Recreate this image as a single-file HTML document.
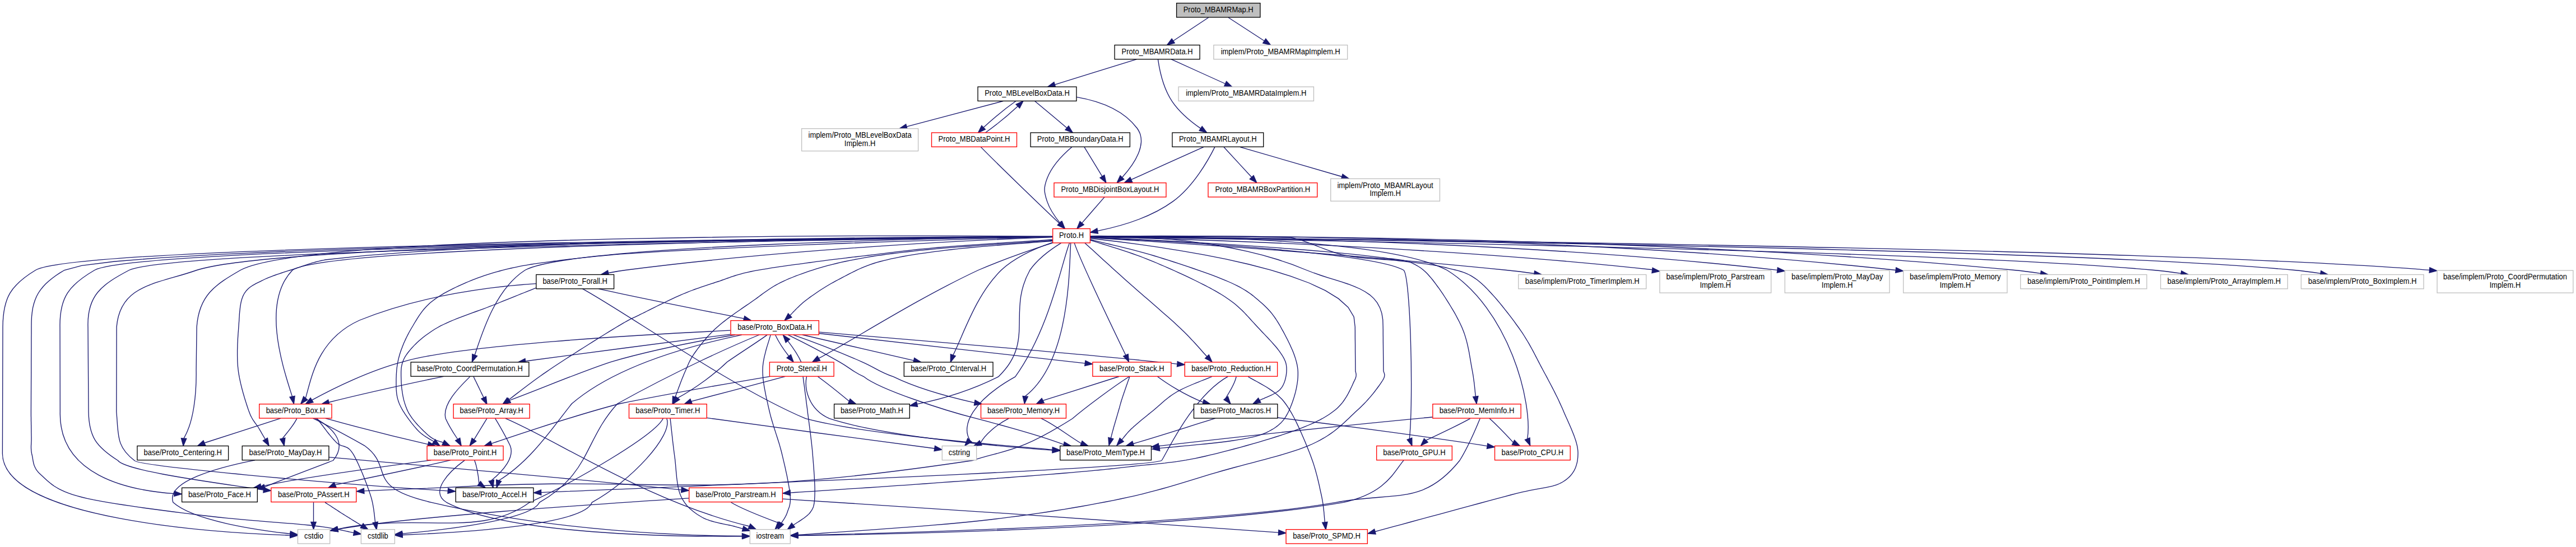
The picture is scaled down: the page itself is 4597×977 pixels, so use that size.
<!DOCTYPE html>
<html><head><meta charset="utf-8"><title>Proto_MBAMRMap.H include dependency graph</title>
<style>html,body{margin:0;padding:0;background:#fff;}body{width:4597px;height:977px;overflow:hidden;}svg{display:block;}</style>
</head><body>
<svg width="4597" height="977" viewBox="0 0 4597 977">
<rect width="4597" height="977" fill="#fff"/>
<g fill="none" stroke="#191970" stroke-width="1.33">
<path d="M2156.7,31.2C2139.8,42.4 2114.0,59.5 2094.1,72.7"/>
<path d="M2192.0,31.2C2209.2,42.4 2235.5,59.5 2255.8,72.7"/>
<path d="M2028.3,105.9C1988.9,118.1 1925.7,137.6 1882.5,151.1"/>
<path d="M2066.5,106.1C2069.0,123.6 2075.8,157.3 2091.7,181.1 2104.9,200.7 2125.4,217.5 2142.6,229.4"/>
<path d="M2090.2,105.9C2116.1,117.7 2156.7,136.1 2186.4,149.5"/>
<path d="M1812.9,180.5C1795.6,192.7 1771.6,212.5 1755.3,227.5"/>
<path d="M1846.6,180.5C1861.5,192.9 1885.8,213.2 1903.9,228.4"/>
<path d="M1921.2,173.3C1960.8,180.1 2004.2,195.5 2029.2,229.0 2049.3,256.3 2023.8,293.3 2002.9,316.5"/>
<path d="M1790.2,180.5C1745.4,192.4 1673.3,211.3 1618.1,226.2"/>
<path d="M1758.5,237.0C1775.8,224.8 1799.8,205.1 1816.1,190.0"/>
<path d="M1750.4,262.6C1777.9,290.8 1852.2,362.7 1890.2,398.6"/>
<path d="M1908.6,433.9C1894.2,470.3 1873.7,586.0 1811.8,672.9 1735.6,715.5 1714.7,760.1 1730.6,785.8"/>
<path d="M1878.3,422.8C1640.0,424.9 249.5,439.3 168.8,482.5 123.2,509.1 106.1,530.9 107.0,584.0 107.0,584.0 107.0,584.0 107.3,735.7 104.8,848.1 226.0,875.6 310.6,881.6"/>
<path d="M1878.2,422.9C1714.3,425.1 1021.6,437.0 937.0,482.5 884.2,516.4 860.5,594.2 847.4,633.7"/>
<path d="M1878.0,428.0L1870.7,428.5 1861.8,429.1 1851.4,429.8 1839.7,430.5 1826.9,431.3 1813.3,432.2 1799.0,433.2 1784.3,434.1 1769.3,435.1 1754.3,436.1 1739.5,437.2 1725.0,438.2 1711.1,439.2 1698.0,440.2 1685.9,441.1 1675.0,442.0 1665.0,442.9 1655.5,443.8 1646.4,444.6 1637.8,445.5 1629.5,446.4 1621.5,447.3 1613.8,448.2 1606.4,449.1 1599.1,449.9 1592.0,450.8 1585.0,451.7 1578.0,452.6 1571.1,453.4 1564.1,454.3 1557.1,455.2 1550.0,456.0 1542.9,456.8 1535.9,457.7 1529.1,458.5 1522.3,459.2 1515.7,460.0 1509.2,460.8 1502.7,461.6 1496.2,462.4 1489.9,463.2 1483.5,463.9 1477.1,464.7 1470.8,465.6 1464.4,466.4 1458.0,467.2 1451.5,468.1 1445.0,469.0 1438.4,469.9 1431.6,470.8 1424.7,471.8 1417.7,472.7 1410.6,473.7 1403.6,474.7 1396.6,475.7 1389.6,476.7 1382.8,477.7 1376.0,478.7 1369.4,479.8 1363.0,480.8 1356.8,481.8 1350.9,482.9 1345.3,483.9 1340.0,485.0 1335.1,486.1 1330.4,487.1 1326.1,488.2 1322.1,489.3 1318.3,490.3 1314.6,491.4 1311.2,492.5 1307.8,493.6 1304.5,494.7 1301.3,495.9 1298.1,497.0 1294.9,498.2 1291.6,499.3 1288.2,500.5 1284.7,501.8 1281.0,503.0 1277.2,504.2 1273.5,505.5 1269.7,506.7 1266.0,507.9 1262.2,509.1 1258.5,510.4 1254.7,511.6 1250.9,512.9 1247.0,514.3 1243.2,515.6 1239.3,517.0 1235.3,518.5 1231.3,520.0 1227.3,521.6 1223.2,523.3 1219.0,525.0 1214.7,526.8 1210.2,528.8 1205.6,530.9 1200.9,533.1 1196.1,535.3 1191.3,537.6 1186.4,540.0 1181.6,542.3 1176.7,544.7 1172.0,547.0 1167.3,549.4 1162.7,551.6 1158.2,553.9 1154.0,556.0 1149.9,558.1 1146.0,560.0 1142.5,561.7 1139.4,563.3 1136.6,564.6 1134.1,565.8 1131.8,566.9 1129.6,567.9 1127.5,568.9 1125.3,570.0 1123.1,571.1 1120.7,572.4 1118.1,573.8 1115.1,575.5 1111.8,577.4 1108.1,579.6 1103.8,582.1 1099.0,585.0 1093.5,588.4 1087.3,592.1 1080.6,596.3 1073.4,600.7 1065.9,605.4 1058.0,610.4 1049.9,615.5 1041.6,620.7 1033.4,625.9 1025.1,631.2 1017.0,636.4 1009.0,641.5 1001.4,646.5 994.1,651.3 987.3,655.8 981.0,660.0 975.1,664.1 969.2,668.1 963.4,672.2 957.8,676.3 952.3,680.3 947.0,684.2 941.9,688.0 937.0,691.7 932.3,695.3 927.9,698.7 923.7,701.9 919.8,704.9 916.3,707.6 913.1,710.1 910.2,712.2 907.7,714.1"/>
<path d="M1878.4,422.6C1662.5,423.8 504.7,432.3 351.2,482.5 280.3,507.6 214.5,507.5 208.1,584.0 208.1,584.0 208.1,584.0 207.8,735.7 211.7,775.9 206.6,797.1 239.9,822.5 243.8,832.2 583.9,863.6 799.3,876.8"/>
<path d="M1878.3,423.3L1840.2,424.2 1790.5,425.5 1730.9,427.2 1663.1,429.3 1588.9,431.7 1510.0,434.5 1428.2,437.6 1345.3,441.1 1263.0,445.0 1183.0,449.2 1107.1,453.8 1101.2,454.4 1095.1,454.9 1088.7,455.5 1082.1,456.1 1075.3,456.8 1068.4,457.4 1061.4,458.1 1054.3,458.8 1047.2,459.6 1040.1,460.3 1033.1,461.1 1026.2,461.9 1019.3,462.6 1012.7,463.4 1006.2,464.2 1000.0,465.0 994.0,465.8 988.0,466.5 982.1,467.3 976.4,468.1 970.7,468.8 965.1,469.6 959.5,470.4 954.1,471.2 948.6,472.0 943.3,472.9 938.0,473.8 932.7,474.7 927.5,475.7 922.3,476.8 917.1,477.8 912.0,479.0 906.9,480.2 901.9,481.4 896.9,482.7 891.9,484.0 887.0,485.4 882.2,486.7 877.4,488.2 872.6,489.6 867.9,491.1 863.2,492.7 858.6,494.3 854.0,495.9 849.5,497.6 844.9,499.4 840.5,501.2 836.0,503.0 831.5,504.9 827.1,506.9 822.6,508.9 818.1,510.9 813.6,513.0 809.2,515.2 804.8,517.4 800.4,519.6 796.2,521.9 792.0,524.2 788.0,526.6 784.1,529.0 780.3,531.5 776.7,533.9 773.3,536.5 770.0,539.0 766.9,541.6 764.1,544.3 761.3,547.0 758.8,549.7 756.3,552.5 754.0,555.4 751.8,558.3 749.8,561.2 747.7,564.1 745.8,567.1 743.9,570.1 742.1,573.1 740.3,576.0 738.5,579.0 736.8,582.0 735.0,585.0 733.2,588.0 731.5,591.0 729.8,594.0 728.2,597.1 726.6,600.2 725.1,603.3 723.6,606.4 722.2,609.5 720.8,612.6 719.5,615.7 718.3,618.8 717.1,621.9 715.9,625.0 714.9,628.0 713.9,631.0 713.0,634.0 712.2,637.0 711.4,639.9 710.7,642.9 710.1,645.8 709.5,648.7 709.1,651.6 708.6,654.5 708.2,657.4 707.9,660.3 707.7,663.2 707.5,666.0 707.3,668.9 707.2,671.7 707.1,674.5 707.0,677.2 707.0,680.0 707.0,682.7 707.0,685.4 707.0,688.1 707.0,690.7 707.1,693.3 707.2,695.9 707.4,698.4 707.6,701.0 707.9,703.6 708.3,706.1 708.8,708.7 709.4,711.3 710.1,713.9 710.9,716.6 711.9,719.3 713.0,722.0 714.3,724.8 715.8,727.7 717.4,730.7 719.2,733.8 721.2,736.9 723.2,740.1 725.4,743.2 727.6,746.3 729.8,749.4 732.1,752.4 734.3,755.4 736.6,758.2 738.8,760.9 741.0,763.4 743.0,765.8 745.0,768.0 747.0,770.0 749.0,771.9 751.1,773.7 753.2,775.4 755.3,777.0 757.4,778.5 759.5,779.9 761.6,781.2 763.6,782.4 765.5,783.6 767.3,784.6 769.0,785.6 770.5,786.4 771.9,787.3 773.1,788.0 774.1,788.7"/>
<path d="M1945.4,421.6L1960.4,421.5 1977.6,421.7 1996.9,422.1 2018.0,422.8 2040.7,423.9 2064.7,425.5 2089.9,427.7 2116.1,430.4 2142.9,433.8 2170.2,438.0 2197.8,443.0 2225.4,448.8 2252.8,455.6 2279.8,463.5 2306.1,472.4 2331.6,482.5 2344.6,487.5 2357.6,492.0 2370.3,496.1 2382.7,499.9 2394.7,503.7 2406.1,507.5 2416.9,511.6 2426.9,516.0 2436.1,521.0 2444.4,526.6 2451.6,533.1 2457.6,540.7 2462.4,549.4 2465.8,559.4 2467.7,570.8 2468.1,584.0 2468.1,584.0 2468.1,584.1 2468.1,584.5 2468.1,585.2 2468.1,586.3 2468.2,588.0 2468.2,590.4 2468.2,593.6 2468.2,597.7 2468.3,602.8 2468.3,609.0 2468.4,616.4 2468.5,625.2 2468.6,635.5 2468.7,647.4 2468.8,660.9 2468.8,661.9 2468.9,662.8 2469.2,663.7 2469.5,664.5 2469.8,665.4 2470.1,666.2 2470.4,667.1 2470.7,668.1 2470.8,669.1 2470.8,670.2 2470.7,671.4 2470.5,672.8 2470.0,674.3 2469.3,676.0 2468.3,677.9 2467.0,680.0 2465.5,682.3 2463.8,684.9 2461.9,687.6 2459.8,690.5 2457.6,693.5 2455.2,696.7 2452.7,700.0 2450.0,703.4 2447.1,706.9 2444.1,710.4 2440.9,714.0 2437.6,717.6 2434.1,721.2 2430.6,724.8 2426.8,728.4 2423.0,732.0 2419.1,735.6 2415.2,739.3 2411.2,743.1 2407.2,746.9 2403.1,750.8 2398.9,754.8 2394.4,758.8 2389.8,762.8 2385.0,766.7 2379.9,770.7 2374.5,774.6 2368.7,778.5 2362.7,782.2 2356.2,785.9 2349.3,789.5 2342.0,793.0 2334.2,796.4 2325.8,799.6 2317.0,802.8 2307.8,805.9 2298.3,808.9 2288.4,811.9 2278.2,814.8 2267.8,817.7 2257.1,820.6 2246.4,823.4 2235.5,826.3 2224.5,829.2 2213.6,832.1 2202.6,835.0 2191.8,838.0 2181.0,841.0 2170.4,844.1 2159.8,847.2 2149.3,850.4 2138.8,853.6 2128.2,856.8 2117.6,860.1 2106.9,863.3 2096.1,866.6 2085.0,869.8 2073.8,873.0 2062.3,876.1 2050.6,879.2 2038.5,882.3 2026.1,885.3 2013.2,888.2 2000.0,891.0 1986.4,893.8 1972.6,896.5 1958.5,899.2 1944.1,901.8 1929.5,904.5 1914.7,907.0 1899.5,909.6 1884.1,912.0 1868.4,914.5 1852.4,916.8 1836.1,919.2 1819.5,921.5 1802.6,923.7 1785.4,925.8 1767.8,928.0 1750.0,930.0 1731.1,932.0 1710.6,934.0 1688.9,936.0 1666.2,937.9 1642.7,939.8 1618.9,941.7 1595.0,943.4 1571.3,945.2 1548.0,946.8 1525.6,948.4 1504.2,949.8 1484.2,951.2 1465.9,952.5 1449.5,953.6 1435.4,954.6 1423.8,955.5"/>
<path d="M1878.5,422.9C1646.1,425.8 311.3,443.9 230.5,482.5 180.9,508.6 155.2,527.9 157.0,584.0 157.0,584.0 157.0,584.0 158.0,735.7 158.8,780.4 171.8,797.8 210.4,822.5 225.5,842.4 399.9,864.0 470.0,875.1"/>
<path d="M1878.4,422.7L1819.5,423.2 1736.4,424.0 1632.6,425.0 1512.1,426.5 1378.5,428.3 1235.5,430.5 1087.0,433.1 936.6,436.3 788.0,439.9 645.1,444.1 511.5,448.9 391.1,454.3 287.4,460.3 204.4,467.0 145.7,474.3 115.0,482.5 106.9,487.4 99.6,492.3 92.9,497.2 86.8,502.2 81.3,507.3 76.5,512.5 72.2,517.9 68.4,523.5 65.2,529.5 62.6,535.8 60.4,542.5 58.6,549.7 57.4,557.4 56.5,565.6 56.1,574.5 56.0,584.0 56.0,584.0 56.0,584.3 56.0,585.0 56.0,586.3 56.0,588.6 56.0,592.0 56.0,596.7 55.9,602.9 55.9,611.0 55.9,621.0 55.8,633.3 55.7,648.0 55.7,665.4 55.6,685.6 55.5,709.0 55.4,735.7 55.4,738.0 55.4,740.5 55.4,743.1 55.5,745.8 55.5,748.7 55.5,751.6 55.6,754.5 55.6,757.5 55.7,760.5 55.7,763.5 55.8,766.5 55.8,769.4 55.8,772.2 55.9,774.9 55.9,777.5 56.0,780.0 56.0,782.3 56.0,784.6 56.0,786.7 55.9,788.8 55.8,790.8 55.7,792.7 55.6,794.6 55.5,796.5 55.5,798.4 55.5,800.2 55.6,802.1 55.7,804.0 55.9,805.9 56.2,807.9 56.5,809.9 57.0,812.0 57.5,814.1 57.9,816.3 58.3,818.4 58.6,820.6 59.0,822.8 59.4,825.0 59.9,827.3 60.5,829.5 61.2,831.8 62.2,834.0 63.3,836.3 64.6,838.6 66.3,840.9 68.2,843.3 70.4,845.6 73.0,848.0 75.7,850.4 78.4,852.9 81.1,855.4 83.8,857.9 86.7,860.4 89.8,863.0 93.1,865.6 96.8,868.2 100.9,870.8 105.4,873.3 110.5,875.9 116.1,878.4 122.5,880.9 129.5,883.3 137.3,885.7 146.0,888.0 155.7,890.3 166.6,892.6 178.4,894.8 191.0,897.1 204.5,899.3 218.5,901.5 233.0,903.7 247.9,905.9 263.0,908.0 278.2,910.0 293.4,912.0 308.5,914.0 323.3,915.8 337.8,917.6 351.7,919.4 365.0,921.0 378.1,922.5 391.4,924.0 404.8,925.4 418.3,926.7 431.9,927.9 445.3,929.1 458.6,930.2 471.7,931.3 484.5,932.3 497.0,933.3 509.0,934.3 520.5,935.2 531.4,936.2 541.7,937.1 551.3,938.0 560.0,939.0 568.0,940.0 575.3,940.9 582.1,941.9 588.2,942.8 593.8,943.8 599.0,944.7 603.6,945.6 607.9,946.5 611.7,947.3 615.3,948.1 618.5,948.8 621.4,949.5 624.2,950.2 626.7,950.7 629.1,951.2 631.4,951.7"/>
<path d="M1878.5,422.7C1632.4,424.2 146.2,435.4 63.5,482.5 19.3,509.2 5.3,531.8 5.0,584.0 5.0,584.0 5.0,584.0 4.4,810.5 6.6,929.1 393.3,951.8 517.4,956.1"/>
<path d="M1878.3,422.8C1670.1,424.7 589.3,437.0 521.9,482.5 465.6,540.9 505.3,657.2 521.5,708.3"/>
<path d="M1878.3,422.5L1830.7,422.6 1766.1,422.9 1686.9,423.4 1595.7,424.2 1495.0,425.4 1387.4,427.0 1275.4,429.2 1161.5,431.9 1048.3,435.2 938.3,439.3 833.9,444.1 737.9,449.8 652.6,456.4 580.6,464.0 576.8,464.8 573.2,465.5 569.7,466.3 566.4,467.1 563.2,468.0 560.1,468.8 557.0,469.7 554.0,470.7 551.0,471.6 548.0,472.6 545.0,473.6 541.9,474.7 538.8,475.7 535.7,476.8 532.4,477.9 529.0,479.0 525.5,480.1 521.8,481.3 518.1,482.5 514.2,483.7 510.3,484.9 506.4,486.2 502.4,487.5 498.5,488.8 494.6,490.1 490.7,491.5 486.9,492.9 483.2,494.3 479.7,495.7 476.3,497.1 473.0,498.5 470.0,500.0 467.1,501.4 464.3,502.8 461.6,504.1 459.0,505.4 456.4,506.7 454.0,508.1 451.6,509.4 449.4,510.8 447.2,512.3 445.2,513.8 443.2,515.5 441.4,517.3 439.6,519.2 438.0,521.3 436.4,523.5 435.0,526.0 433.7,528.6 432.6,531.4 431.6,534.3 430.7,537.4 430.0,540.5 429.4,543.8 428.8,547.2 428.4,550.8 428.0,554.4 427.6,558.1 427.3,561.9 427.1,565.8 426.8,569.7 426.6,573.7 426.3,577.8 426.0,582.0 425.7,586.3 425.4,590.7 425.0,595.3 424.7,600.0 424.4,604.9 424.2,609.8 423.9,614.8 423.8,619.9 423.6,625.0 423.6,630.1 423.6,635.2 423.7,640.3 423.8,645.3 424.1,650.3 424.5,655.2 425.0,660.0 425.6,664.8 426.4,669.7 427.3,674.7 428.4,679.8 429.5,684.9 430.7,689.9 432.0,695.0 433.3,699.9 434.7,704.8 436.1,709.6 437.5,714.2 438.9,718.6 440.2,722.8 441.5,726.8 442.8,730.6 444.0,734.0 445.2,737.1 446.3,740.0 447.5,742.6 448.7,745.0 449.9,747.2 451.1,749.3 452.3,751.1 453.5,752.9 454.6,754.5 455.8,756.1 456.9,757.6 458.0,759.1 459.1,760.5 460.1,762.0 461.1,763.5 462.0,765.0 462.9,766.6 463.8,768.1 464.7,769.7 465.6,771.2 466.4,772.6 467.2,774.1 468.0,775.4 468.8,776.8 469.5,778.0 470.2,779.2 470.9,780.3 471.5,781.4 472.0,782.3 472.5,783.2 473.0,784.0 473.3,784.7"/>
<path d="M1945.6,425.8L1969.5,428.5 1998.5,432.0 2031.8,436.3 2068.3,441.6 2107.2,447.8 2147.4,454.9 2188.1,462.9 2228.3,472.0 2267.1,482.1 2303.4,493.3 2336.4,505.5 2365.1,518.9 2388.6,533.4 2405.9,549.0 2416.1,565.9 2418.2,584.0 2418.2,584.0 2418.2,584.1 2418.2,584.5 2418.2,585.2 2418.2,586.3 2418.2,588.0 2418.3,590.4 2418.3,593.6 2418.3,597.7 2418.3,602.8 2418.4,609.0 2418.5,616.4 2418.5,625.2 2418.6,635.5 2418.7,647.4 2418.8,660.9 2418.8,661.9 2418.9,662.8 2419.0,663.7 2419.2,664.5 2419.5,665.4 2419.7,666.2 2419.9,667.1 2420.0,668.1 2420.1,669.1 2420.1,670.2 2420.0,671.4 2419.8,672.8 2419.4,674.3 2418.8,676.0 2418.0,677.9 2417.0,680.0 2415.8,682.4 2414.6,685.0 2413.3,687.9 2411.9,691.0 2410.3,694.2 2408.7,697.6 2406.9,701.1 2405.0,704.7 2402.9,708.3 2400.6,711.9 2398.2,715.5 2395.6,719.1 2392.7,722.5 2389.7,725.8 2386.5,729.0 2383.0,732.0 2379.4,734.8 2375.7,737.5 2371.9,740.2 2367.9,742.7 2363.8,745.2 2359.6,747.7 2355.1,750.1 2350.4,752.4 2345.5,754.8 2340.3,757.2 2334.8,759.5 2329.0,761.9 2322.8,764.4 2316.3,766.8 2309.3,769.4 2302.0,772.0 2294.1,774.7 2285.4,777.6 2276.2,780.5 2266.4,783.6 2256.2,786.7 2245.7,789.8 2234.9,792.9 2223.9,796.0 2212.9,799.1 2201.9,802.0 2191.0,804.9 2180.2,807.7 2169.8,810.3 2159.7,812.7 2150.1,815.0 2141.0,817.0 2132.4,818.8 2124.0,820.4 2116.0,821.9 2108.1,823.1 2100.5,824.3 2093.0,825.3 2085.7,826.2 2078.5,827.1 2071.4,827.8 2064.3,828.6 2057.2,829.3 2050.1,830.0 2043.0,830.7 2035.8,831.4 2028.5,832.2 2021.0,833.0 2013.7,833.8 2006.8,834.6 2000.2,835.4 1993.8,836.1 1987.6,836.8 1981.4,837.5 1975.1,838.2 1968.6,838.8 1961.9,839.5 1954.9,840.2 1947.4,840.9 1939.3,841.6 1930.7,842.4 1921.3,843.2 1911.1,844.1 1900.0,845.0 1887.9,846.0 1874.9,847.1 1861.0,848.2 1846.3,849.3 1831.1,850.5 1815.2,851.7 1799.0,853.0 1782.4,854.2 1765.6,855.5 1748.7,856.8 1731.7,858.0 1714.8,859.3 1698.1,860.5 1681.6,861.7 1665.6,862.9 1650.0,864.0 1634.3,865.1 1617.9,866.3 1601.0,867.4 1583.7,868.6 1566.3,869.8 1548.8,871.0 1531.5,872.1 1514.5,873.2 1498.0,874.3 1482.2,875.4 1467.2,876.4 1453.1,877.3 1440.3,878.1 1428.7,878.9 1418.7,879.5 1410.3,880.1"/>
<path d="M1945.6,422.2L1982.7,422.0 2031.1,421.9 2089.1,422.0 2155.0,422.3 2227.1,423.1 2303.7,424.3 2309.1,425.4 2314.7,426.9 2320.5,428.6 2326.3,430.5 2332.3,432.6 2338.3,434.9 2344.4,437.2 2350.5,439.6 2356.7,442.0 2362.9,444.3 2369.1,446.7 2375.3,448.9 2381.6,451.0 2387.7,452.9 2393.9,454.6 2400.0,456.0 2406.1,457.2 2412.3,458.3 2418.5,459.2 2424.8,460.0 2431.0,460.7 2437.3,461.3 2443.6,461.8 2449.9,462.2 2456.1,462.7 2462.3,463.1 2468.5,463.5 2474.6,463.9 2480.6,464.3 2486.5,464.8 2492.3,465.4 2498.0,466.0 2503.6,466.7 2509.2,467.3 2514.7,467.9 2520.1,468.6 2525.5,469.2 2530.9,469.8 2536.2,470.4 2541.4,471.1 2546.5,471.7 2551.6,472.5 2556.5,473.2 2561.4,474.0 2566.2,474.9 2570.9,475.9 2575.5,476.9 2580.0,478.0 2584.3,479.1 2588.5,480.1 2592.5,481.1 2596.3,482.0 2600.0,482.9 2603.7,483.9 2607.2,485.0 2610.8,486.1 2614.2,487.4 2617.7,488.9 2621.2,490.5 2624.8,492.4 2628.4,494.6 2632.2,497.1 2636.0,499.8 2640.0,503.0 2644.1,506.6 2648.5,510.6 2652.9,514.9 2657.4,519.7 2662.0,524.7 2666.7,529.9 2671.4,535.3 2676.1,540.9 2680.7,546.5 2685.3,552.3 2689.8,558.0 2694.2,563.7 2698.4,569.2 2702.5,574.7 2706.3,580.0 2710.0,585.0 2713.4,589.9 2716.7,594.7 2719.8,599.5 2722.8,604.3 2725.6,609.0 2728.4,613.7 2731.0,618.4 2733.6,623.0 2736.1,627.6 2738.5,632.3 2740.9,636.9 2743.3,641.5 2745.7,646.1 2748.1,650.7 2750.5,655.4 2753.0,660.0 2755.5,664.7 2758.0,669.3 2760.5,673.9 2762.9,678.5 2765.4,683.2 2767.8,687.8 2770.2,692.4 2772.6,697.0 2774.9,701.6 2777.2,706.2 2779.5,710.8 2781.7,715.5 2783.8,720.1 2785.9,724.7 2788.0,729.3 2790.0,734.0 2792.0,738.7 2794.1,743.5 2796.3,748.3 2798.5,753.2 2800.7,758.2 2802.8,763.1 2804.9,768.0 2806.9,772.9 2808.8,777.8 2810.5,782.6 2812.1,787.3 2813.4,791.9 2814.5,796.4 2815.3,800.8 2815.8,805.0 2816.0,809.0 2815.9,812.9 2815.7,816.7 2815.3,820.4 2814.8,824.1 2814.0,827.6 2813.0,831.1 2811.9,834.4 2810.5,837.7 2808.9,840.8 2807.0,843.9 2804.9,846.9 2802.5,849.7 2799.8,852.5 2796.9,855.1 2793.6,857.6 2790.0,860.0 2786.3,862.2 2782.5,864.0 2778.7,865.6 2774.8,866.9 2770.6,868.1 2766.2,869.2 2761.6,870.1 2756.5,871.1 2751.0,872.1 2745.1,873.1 2738.6,874.3 2731.5,875.7 2723.8,877.3 2715.3,879.2 2706.1,881.4 2696.0,884.0 2684.5,887.1 2671.2,890.7 2656.3,894.7 2640.2,899.0 2623.1,903.6 2605.4,908.4 2587.3,913.3 2569.1,918.3 2551.0,923.2 2533.4,927.9 2516.6,932.5 2500.8,936.8 2486.4,940.7 2473.6,944.2 2462.6,947.1 2453.9,949.5"/>
<path d="M1878.2,422.2C1666.7,420.5 554.9,415.1 429.1,482.5 383.9,508.6 355.1,527.2 351.1,584.0 351.1,584.0 351.1,584.0 350.1,660.9 350.8,703.8 345.6,753.6 328.1,782.8"/>
<path d="M1945.4,424.0C2061.2,429.4 2448.4,449.6 2504.8,482.5 2517.0,492.2 2522.6,709.5 2515.3,783.5"/>
<path d="M1878.4,423.6C1771.0,427.5 1428.0,442.1 1116.0,482.5 1105.7,483.8 1095.4,485.6 1086.1,487.5"/>
<path d="M1878.0,430.5L1871.5,431.0 1863.6,431.7 1854.3,432.4 1844.0,433.2 1832.7,434.0 1820.6,434.9 1807.9,435.9 1794.8,436.9 1781.5,438.0 1768.1,439.1 1754.8,440.2 1741.8,441.4 1729.2,442.5 1717.3,443.7 1706.1,444.9 1696.0,446.0 1686.5,447.1 1677.3,448.3 1668.3,449.4 1659.6,450.6 1651.1,451.8 1642.8,452.9 1634.7,454.2 1626.9,455.4 1619.2,456.7 1611.8,458.0 1604.5,459.4 1597.5,460.8 1590.6,462.2 1583.9,463.8 1577.4,465.3 1571.0,467.0 1564.9,468.7 1559.0,470.5 1553.4,472.4 1548.1,474.4 1542.9,476.4 1538.0,478.4 1533.2,480.5 1528.6,482.6 1524.2,484.8 1519.8,487.0 1515.6,489.1 1511.4,491.3 1507.3,493.5 1503.2,495.7 1499.1,497.9 1495.0,500.0 1490.9,502.1 1487.0,504.3 1483.0,506.5 1479.2,508.8 1475.4,511.0 1471.8,513.3 1468.2,515.5 1464.6,517.8 1461.2,520.0 1457.9,522.3 1454.7,524.5 1451.5,526.7 1448.5,528.8 1445.5,530.9 1442.7,533.0 1440.0,535.0 1437.4,537.0 1434.8,539.1 1432.4,541.1 1430.0,543.2 1427.7,545.3 1425.5,547.4 1423.4,549.4 1421.4,551.4 1419.5,553.3 1417.8,555.1 1416.1,556.8 1414.6,558.4 1413.2,559.9 1411.9,561.2 1410.7,562.4 1409.7,563.4"/>
<path d="M1917.2,433.9C1929.5,470.2 1984.8,584.2 2008.8,634.1"/>
<path d="M1946.0,429.0L1949.3,430.1 1953.2,431.3 1957.8,432.7 1962.8,434.3 1968.3,436.0 1974.2,437.8 1980.5,439.8 1986.9,441.8 1993.6,443.9 2000.4,446.1 2007.2,448.4 2014.1,450.7 2020.8,453.0 2027.5,455.3 2033.9,457.7 2040.0,460.0 2046.0,462.4 2052.2,464.8 2058.5,467.4 2064.8,470.0 2071.2,472.8 2077.6,475.5 2084.1,478.3 2090.4,481.1 2096.8,484.0 2103.0,486.8 2109.1,489.6 2115.1,492.4 2120.9,495.1 2126.5,497.8 2131.9,500.5 2137.0,503.0 2141.9,505.5 2146.6,507.9 2151.2,510.2 2155.6,512.5 2159.8,514.7 2163.9,517.0 2167.9,519.2 2171.8,521.4 2175.5,523.6 2179.2,525.8 2182.8,528.0 2186.3,530.3 2189.8,532.7 2193.2,535.0 2196.6,537.5 2200.0,540.0 2203.3,542.6 2206.5,545.2 2209.6,547.9 2212.6,550.7 2215.6,553.5 2218.4,556.3 2221.2,559.1 2223.9,562.0 2226.6,564.9 2229.3,567.8 2231.9,570.7 2234.5,573.6 2237.1,576.4 2239.7,579.3 2242.4,582.2 2245.0,585.0 2247.7,587.8 2250.4,590.7 2253.2,593.7 2256.0,596.6 2258.8,599.6 2261.6,602.5 2264.4,605.5 2267.1,608.4 2269.8,611.4 2272.3,614.2 2274.8,617.0 2277.2,619.8 2279.4,622.5 2281.4,625.1 2283.3,627.6 2285.0,630.0 2286.5,632.3 2287.9,634.4 2289.2,636.5 2290.3,638.4 2291.3,640.3 2292.2,642.1 2293.0,643.9 2293.7,645.6 2294.3,647.3 2294.8,649.0 2295.2,650.8 2295.5,652.5 2295.7,654.3 2295.9,656.1 2296.0,658.0 2296.0,660.0 2296.0,662.1 2295.9,664.2 2295.7,666.5 2295.4,668.8 2295.1,671.1 2294.6,673.4 2294.1,675.8 2293.5,678.1 2292.8,680.5 2292.0,682.8 2291.1,685.0 2290.1,687.2 2289.0,689.3 2287.8,691.3 2286.4,693.2 2285.0,695.0 2283.3,696.7 2281.3,698.4 2279.1,700.0 2276.7,701.5 2274.0,703.0 2271.3,704.5 2268.5,705.9 2265.7,707.2 2262.9,708.4 2260.1,709.6 2257.5,710.7 2255.1,711.8 2252.8,712.7 2250.8,713.6 2249.1,714.3 2247.7,715.0"/>
<path d="M1945.7,422.1C2065.3,421.3 2468.8,422.9 2582.2,482.5 2692.9,551.0 2735.7,720.4 2725.7,783.6"/>
<path d="M1946.0,428.0L1950.0,429.0 1954.7,430.1 1960.1,431.4 1966.1,432.8 1972.6,434.4 1979.6,436.0 1987.0,437.8 1994.8,439.6 2002.7,441.6 2010.9,443.6 2019.2,445.7 2027.6,447.9 2035.9,450.1 2044.1,452.4 2052.2,454.7 2060.0,457.0 2067.9,459.4 2076.1,462.0 2084.7,464.7 2093.5,467.5 2102.4,470.4 2111.4,473.4 2120.5,476.4 2129.5,479.5 2138.4,482.6 2147.1,485.7 2155.6,488.7 2163.8,491.7 2171.6,494.7 2178.9,497.6 2185.7,500.3 2192.0,503.0 2197.7,505.5 2202.9,508.0 2207.8,510.4 2212.2,512.7 2216.3,515.0 2220.1,517.2 2223.7,519.4 2227.0,521.6 2230.1,523.7 2233.1,525.9 2236.0,528.1 2238.8,530.4 2241.5,532.7 2244.3,535.1 2247.1,537.5 2250.0,540.0 2252.9,542.5 2255.6,545.0 2258.2,547.5 2260.7,550.0 2263.1,552.5 2265.4,555.0 2267.6,557.5 2269.8,560.1 2271.8,562.8 2273.9,565.6 2275.9,568.5 2277.9,571.5 2279.9,574.6 2281.9,577.9 2284.0,581.3 2286.0,585.0 2288.1,588.9 2290.4,592.9 2292.7,597.2 2295.0,601.7 2297.4,606.3 2299.7,611.0 2302.0,615.8 2304.2,620.7 2306.4,625.6 2308.4,630.6 2310.2,635.6 2311.9,640.6 2313.3,645.6 2314.5,650.5 2315.4,655.3 2316.0,660.0 2316.3,664.7 2316.3,669.6 2316.1,674.5 2315.7,679.5 2315.0,684.5 2314.2,689.5 2313.2,694.5 2312.1,699.4 2310.8,704.3 2309.4,709.1 2307.9,713.7 2306.4,718.2 2304.8,722.5 2303.2,726.6 2301.6,730.4 2300.0,734.0 2298.4,737.3 2296.7,740.4 2295.0,743.4 2293.3,746.1 2291.5,748.7 2289.6,751.1 2287.6,753.4 2285.6,755.6 2283.4,757.6 2281.2,759.6 2278.8,761.4 2276.3,763.2 2273.7,765.0 2270.9,766.7 2268.0,768.3 2265.0,770.0 2261.9,771.6 2258.8,773.1 2255.6,774.4 2252.4,775.7 2249.1,776.8 2245.7,777.9 2242.2,778.9 2238.5,779.9 2234.6,780.8 2230.5,781.7 2226.2,782.6 2221.6,783.4 2216.7,784.3 2211.5,785.2 2205.9,786.1 2200.0,787.0 2193.4,788.0 2185.9,789.0 2177.7,790.0 2168.9,791.0 2159.6,792.0 2150.0,793.0 2140.3,793.9 2130.6,794.9 2120.9,795.8 2111.6,796.7 2102.7,797.5 2094.3,798.3 2086.6,799.0 2079.8,799.6 2074.0,800.1 2069.3,800.6"/>
<path d="M1910.8,433.9C1907.7,478.8 1910.8,643.6 1829.7,707.6"/>
<path d="M1878.3,433.9C1843.1,445.1 1790.4,463.3 1745.8,482.5 1636.6,533.6 1523.5,606.5 1461.3,639.9"/>
<path d="M1878.0,429.5L1870.0,430.1 1860.2,430.7 1848.7,431.5 1835.9,432.4 1821.9,433.3 1807.0,434.3 1791.3,435.3 1775.1,436.4 1758.7,437.6 1742.1,438.8 1725.8,440.0 1709.8,441.2 1694.4,442.4 1679.8,443.6 1666.3,444.8 1654.0,446.0 1642.7,447.2 1631.7,448.3 1621.2,449.5 1611.1,450.7 1601.2,451.8 1591.7,453.0 1582.5,454.2 1573.6,455.5 1564.8,456.7 1556.3,458.0 1548.0,459.4 1539.8,460.8 1531.7,462.3 1523.8,463.8 1515.9,465.3 1508.0,467.0 1500.2,468.7 1492.6,470.5 1485.2,472.3 1477.9,474.2 1470.7,476.2 1463.8,478.2 1457.0,480.2 1450.3,482.3 1443.8,484.4 1437.5,486.6 1431.3,488.8 1425.3,491.0 1419.5,493.2 1413.8,495.5 1408.3,497.7 1403.0,500.0 1397.9,502.3 1393.1,504.6 1388.6,507.0 1384.2,509.4 1380.1,511.8 1376.2,514.3 1372.4,516.7 1368.8,519.2 1365.2,521.8 1361.6,524.3 1358.1,526.9 1354.6,529.5 1351.1,532.1 1347.5,534.7 1343.8,537.3 1340.0,540.0 1336.1,542.7 1332.1,545.4 1328.1,548.1 1324.1,550.9 1320.1,553.7 1316.0,556.5 1312.0,559.3 1308.0,562.2 1304.1,565.0 1300.2,567.9 1296.4,570.8 1292.7,573.6 1289.0,576.5 1285.6,579.3 1282.2,582.2 1279.0,585.0 1275.9,587.8 1272.9,590.7 1270.0,593.6 1267.2,596.5 1264.5,599.4 1261.8,602.3 1259.3,605.2 1256.8,608.1 1254.4,611.0 1252.1,613.9 1249.9,616.7 1247.8,619.5 1245.7,622.2 1243.7,624.9 1241.8,627.5 1240.0,630.0 1238.3,632.4 1236.7,634.8 1235.3,637.0 1234.0,639.2 1232.8,641.4 1231.7,643.4 1230.6,645.5 1229.6,647.5 1228.7,649.6 1227.8,651.6 1226.9,653.7 1226.0,655.8 1225.0,658.0 1224.1,660.2 1223.1,662.6 1222.0,665.0 1220.9,667.6 1219.7,670.4 1218.5,673.4 1217.2,676.5 1216.0,679.7 1214.7,682.9 1213.5,686.2 1212.3,689.4 1211.1,692.5 1210.0,695.6 1208.9,698.5 1207.9,701.2 1207.0,703.7 1206.1,705.9 1205.4,707.8 1204.8,709.4"/>
<path d="M1893.5,434.1C1875.9,444.9 1852.1,462.2 1837.9,482.5 1796.5,556.8 1847.8,609.5 1781.6,672.9 1730.6,698.5 1679.1,713.2 1636.9,721.7"/>
<path d="M1936.0,434.0L1938.6,436.4 1941.7,439.2 1945.3,442.5 1949.3,446.1 1953.6,450.0 1958.2,454.2 1963.1,458.7 1968.2,463.4 1973.5,468.2 1978.9,473.1 1984.4,478.2 1990.0,483.2 1995.6,488.3 2001.2,493.3 2006.6,498.2 2012.0,503.0 2017.4,507.8 2023.1,512.8 2029.0,518.0 2035.1,523.3 2041.3,528.7 2047.6,534.1 2053.9,539.6 2060.2,545.1 2066.5,550.5 2072.6,555.9 2078.6,561.2 2084.5,566.3 2090.1,571.3 2095.4,576.1 2100.4,580.7 2105.0,585.0 2109.4,589.2 2113.6,593.3 2117.6,597.3 2121.5,601.3 2125.2,605.2 2128.7,608.9 2132.1,612.5 2135.2,616.0 2138.2,619.3 2141.1,622.5 2143.7,625.5 2146.1,628.2 2148.3,630.7 2150.4,633.0 2152.2,635.0 2153.9,636.8"/>
<path d="M1878.2,433.2C1849.8,442.8 1812.2,459.0 1786.7,482.5 1741.5,526.7 1719.3,597.6 1700.9,634.1"/>
<path d="M1945.5,424.5C2049.3,430.8 2384.9,451.9 2688.4,482.5 2705.3,484.2 2721.8,486.3 2737.5,488.5"/>
<path d="M1945.6,423.8L1972.3,425.0 2005.2,426.5 2043.6,428.3 2086.2,430.5 2132.3,433.1 2180.7,435.9 2230.6,439.1 2280.8,442.7 2330.5,446.5 2378.7,450.7 2424.3,455.2 2466.5,460.1 2469.5,460.5 2472.7,460.9 2476.0,461.3 2479.4,461.6 2482.8,462.0 2486.3,462.4 2489.9,462.8 2493.4,463.3 2497.0,463.8 2500.5,464.4 2504.0,465.0 2507.4,465.8 2510.7,466.6 2513.9,467.6 2517.0,468.7 2520.0,470.0 2522.8,471.3 2525.5,472.7 2528.1,474.1 2530.5,475.5 2532.9,477.0 2535.2,478.5 2537.5,480.2 2539.7,482.0 2542.0,483.9 2544.2,486.0 2546.5,488.3 2548.8,490.8 2551.2,493.5 2553.7,496.4 2556.3,499.5 2559.0,503.0 2561.9,506.8 2564.9,511.0 2568.2,515.4 2571.5,520.2 2574.9,525.2 2578.4,530.5 2581.8,535.9 2585.3,541.4 2588.7,547.0 2592.1,552.6 2595.4,558.2 2598.5,563.8 2601.4,569.4 2604.2,574.8 2606.7,580.0 2609.0,585.0 2611.0,589.9 2612.9,594.9 2614.5,599.9 2616.0,604.9 2617.4,609.9 2618.6,614.8 2619.7,619.7 2620.7,624.6 2621.7,629.4 2622.5,634.2 2623.3,638.8 2624.1,643.3 2624.8,647.7 2625.5,652.0 2626.3,656.1 2627.0,660.0 2627.7,663.8 2628.4,667.6 2629.0,671.4 2629.5,675.0 2630.0,678.6 2630.5,682.1 2630.9,685.5 2631.3,688.7 2631.6,691.8 2631.9,694.8 2632.2,697.5 2632.4,700.1 2632.7,702.4 2632.9,704.6 2633.1,706.4 2633.3,708.1"/>
<path d="M1945.3,423.1C2074.5,425.9 2559.2,438.7 2955.9,482.5 2956.4,482.6 2952.5,482.8 2948.5,483.0"/>
<path d="M1945.5,422.4C2090.4,422.5 2679.4,426.3 3171.4,482.4"/>
<path d="M1945.5,422.1C2104.6,420.6 2802.3,418.3 3383.0,482.5"/>
<path d="M1945.5,422.2C2118.8,421.0 2934.4,419.1 3594.6,482.5 3609.7,483.9 3625.9,486.0 3641.4,488.3"/>
<path d="M1945.6,423.0C2169.8,426.2 3454.9,446.4 3843.7,482.5 3859.4,483.9 3876.2,486.1 3892.2,488.4"/>
<path d="M1945.6,422.8C2186.0,425.2 3652.2,441.1 4094.4,482.5 4109.6,483.9 4125.7,486.0 4141.1,488.3"/>
<path d="M1945.5,422.8C2198.4,424.9 3813.7,440.2 4335.2,482.4"/>
<path d="M845.0,672.6L845.7,674.0 846.5,675.8 847.5,677.9 848.7,680.2 850.0,682.8 851.3,685.6 852.7,688.5 854.1,691.4 855.5,694.3 856.9,697.2 858.2,700.0 859.5,702.6 860.6,704.9 861.7,707.0 862.5,708.8 863.2,710.2"/>
<path d="M839.0,672.4C822.0,689.3 788.1,721.6 795.3,747.7 800.9,760.3 809.3,773.6 816.7,784.5"/>
<path d="M791.7,672.3C731.6,684.8 641.2,704.8 587.1,718.5"/>
<path d="M883.7,747.4C890.9,759.3 902.0,778.5 910.3,795.8 918.8,816.4 898.6,840.6 876.8,858.2"/>
<path d="M868.9,747.6C862.5,757.8 853.5,772.8 846.0,785.2"/>
<path d="M902.1,747.3C989.5,783.9 1157.9,897.0 1337.2,940.0"/>
<path d="M769.2,821.9C674.8,834.6 523.0,855.1 466.0,868.8"/>
<path d="M846.8,822.1C850.9,833.2 853.7,850.3 854.9,863.5"/>
<path d="M829.2,822.1C802.9,841.1 765.1,878.4 796.8,897.3 905.1,954.7 1201.2,958.8 1324.6,957.9"/>
<path d="M803.8,821.9C755.2,833.7 663.8,852.3 598.3,865.9"/>
<path d="M580.0,897.3L581.2,898.1 582.7,899.1 584.5,900.2 586.4,901.5 588.5,902.8 590.8,904.3 593.1,905.9 595.6,907.5 598.1,909.1 600.7,910.8 603.2,912.4 605.7,914.1 608.2,915.7 610.6,917.2 612.9,918.6 615.0,920.0 617.1,921.3 619.2,922.7 621.5,924.0 623.7,925.4 625.9,926.8 628.2,928.2 630.4,929.6 632.5,930.9 634.6,932.1 636.6,933.4 638.5,934.5 640.2,935.6 641.9,936.6 643.3,937.5 644.6,938.2 645.7,938.9"/>
<path d="M559.5,897.3L559.5,898.6 559.5,900.2 559.5,902.2 559.5,904.4 559.5,906.8 559.5,909.4 559.5,912.1 559.5,914.8 559.5,917.5 559.5,920.2 559.5,922.8 559.5,925.2 559.5,927.4 559.5,929.3 559.5,931.0 559.5,932.3"/>
<path d="M562.4,747.1C589.7,761.7 622.5,789.1 594.4,822.5 530.6,846.7 492.5,861.1 472.3,869.8"/>
<path d="M580.8,747.1C625.8,759.7 704.7,780.1 763.9,793.7"/>
<path d="M558.6,747.2C582.0,758.6 617.4,777.2 650.3,795.8 706.1,836.3 646.9,868.8 769.7,897.3 991.4,949.3 1220.7,956.9 1324.1,957.5"/>
<path d="M566.0,747.6L567.2,749.1 568.7,751.0 570.3,753.3 572.2,755.8 574.3,758.5 576.5,761.4 578.8,764.5 581.2,767.6 583.6,770.8 586.1,774.0 588.6,777.1 591.1,780.1 593.4,782.9 595.8,785.5 598.0,787.9 600.0,790.0 601.9,791.7 603.8,793.1 605.7,794.2 607.5,795.1 609.3,795.8 611.1,796.4 612.9,796.9 614.6,797.5 616.4,798.1 618.1,798.8 619.9,799.7 621.7,800.9 623.4,802.3 625.3,804.1 627.1,806.3 629.0,809.0 631.0,812.2 633.0,815.9 635.1,820.0 637.3,824.4 639.6,829.2 641.8,834.2 644.0,839.3 646.3,844.6 648.5,850.0 650.6,855.3 652.6,860.6 654.6,865.8 656.4,870.8 658.1,875.5 659.6,879.9 661.0,884.0 662.2,887.9 663.3,891.7 664.2,895.5 665.0,899.2 665.7,902.8 666.3,906.4 666.9,909.8 667.3,913.1 667.7,916.3 668.1,919.3 668.4,922.1 668.7,924.7 668.9,927.1 669.2,929.3 669.4,931.2 669.7,932.9"/>
<path d="M529.7,747.6C525.2,757.2 514.3,770.9 504.2,782.9"/>
<path d="M500.9,747.1C465.5,758.9 406.9,777.5 365.1,791.0"/>
<path d="M455.0,821.8C387.4,835.2 295.7,860.3 308.9,897.3 345.6,930.4 459.4,946.8 517.7,953.4"/>
<path d="M586.9,816.6C735.3,829.7 1082.8,860.5 1215.6,874.9"/>
<path d="M1304.5,897.2C1321.1,907.4 1358.7,922.5 1392.0,934.9"/>
<path d="M1229.2,889.8C1094.7,898.7 753.2,920.1 603.3,945.1"/>
<path d="M1396.7,891.1C1613.3,904.5 2106.2,937.5 2281.2,951.1"/>
<path d="M2505.0,822.1C2488.2,841.8 2473.7,880.9 2397.4,897.3 2126.8,944.0 1582.4,954.5 1424.2,956.6"/>
<path d="M957.0,514.0L954.3,515.1 951.2,516.3 947.6,517.8 943.7,519.4 939.4,521.1 934.7,523.0 929.8,524.9 924.7,527.0 919.4,529.1 913.9,531.4 908.3,533.6 902.6,535.9 896.9,538.2 891.2,540.5 885.6,542.8 880.0,545.0 874.3,547.2 868.4,549.5 862.2,551.8 855.8,554.2 849.2,556.5 842.6,558.9 835.9,561.4 829.2,563.9 822.5,566.4 815.9,568.9 809.5,571.5 803.2,574.2 797.2,576.8 791.5,579.5 786.0,582.2 781.0,585.0 776.2,587.8 771.6,590.7 767.2,593.7 762.9,596.7 758.7,599.7 754.8,602.8 751.0,606.0 747.4,609.1 743.9,612.3 740.7,615.4 737.6,618.6 734.7,621.8 732.0,624.9 729.5,628.0 727.1,631.0 725.0,634.0 723.1,636.9 721.5,639.8 720.1,642.7 719.0,645.5 718.0,648.3 717.3,651.1 716.7,653.8 716.2,656.6 716.0,659.4 715.8,662.2 715.7,665.1 715.7,667.9 715.7,670.9 715.8,673.8 715.9,676.9 716.0,680.0 716.1,683.2 716.3,686.5 716.6,689.9 716.9,693.4 717.4,696.9 717.9,700.5 718.5,704.1 719.1,707.7 719.9,711.3 720.7,714.9 721.7,718.4 722.8,721.9 723.9,725.3 725.2,728.6 726.5,731.9 728.0,735.0 729.6,738.1 731.5,741.2 733.5,744.2 735.7,747.3 738.1,750.3 740.5,753.3 743.0,756.3 745.6,759.2 748.2,761.9 750.8,764.6 753.4,767.2 755.9,769.7 758.4,772.0 760.7,774.2 762.9,776.2 765.0,778.0 767.0,779.6 769.0,781.1 770.9,782.4 772.9,783.6 774.8,784.6 776.7,785.5 778.5,786.3 780.3,787.0 782.0,787.6 783.6,788.1 785.2,788.6 786.6,789.0 787.9,789.4 789.1,789.8 790.1,790.2 791.0,790.6"/>
<path d="M956.8,506.6C881.9,511.4 754.9,526.2 641.6,572.0 565.7,606.4 555.9,675.6 545.3,711.1"/>
<path d="M1068.4,515.8C1129.4,529.8 1250.4,553.6 1327.4,569.1"/>
<path d="M1039.5,515.8C1114.3,556.2 1305.8,692.2 1437.8,747.7 1549.9,777.6 1795.1,795.5 1878.1,803.2"/>
<path d="M1303.5,597.1C1204.0,609.8 1040.3,631.3 938.2,645.0"/>
<path d="M1312.1,598.0C1254.0,607.8 1167.3,623.9 1090.5,646.3 1033.1,665.1 962.6,695.6 909.5,715.0"/>
<path d="M1323.8,598.1C1246.5,614.2 1103.3,650.0 1020.4,721.0 988.4,760.7 947.4,823.6 890.2,858.2"/>
<path d="M1375.0,598.3L1374.5,600.4 1373.7,603.0 1372.9,605.9 1371.9,609.1 1370.8,612.6 1369.6,616.4 1368.4,620.4 1367.2,624.5 1366.1,628.8 1365.0,633.3 1363.9,637.7 1363.0,642.3 1362.2,646.8 1361.6,651.3 1361.2,655.7 1361.0,660.0 1361.0,664.3 1361.2,668.7 1361.5,673.1 1361.9,677.6 1362.5,682.2 1363.2,686.8 1363.9,691.5 1364.8,696.2 1365.7,700.9 1366.6,705.6 1367.6,710.4 1368.7,715.1 1369.8,719.9 1370.8,724.6 1371.9,729.3 1373.0,734.0 1374.1,738.7 1375.3,743.3 1376.6,748.0 1378.0,752.7 1379.4,757.4 1380.8,762.1 1382.3,766.7 1383.8,771.4 1385.3,776.1 1386.8,780.8 1388.3,785.5 1389.8,790.2 1391.2,794.9 1392.5,799.6 1393.8,804.3 1395.0,809.0 1396.2,813.8 1397.3,818.7 1398.5,823.7 1399.7,828.8 1400.9,833.9 1402.0,839.1 1403.1,844.2 1404.2,849.2 1405.2,854.2 1406.1,859.1 1407.0,863.8 1407.8,868.3 1408.5,872.7 1409.1,876.7 1409.6,880.5 1410.0,884.0 1410.2,887.2 1410.4,890.1 1410.4,892.7 1410.3,895.1 1410.1,897.3 1409.8,899.4 1409.5,901.2 1409.1,903.0 1408.7,904.6 1408.2,906.2 1407.6,907.7 1407.1,909.1 1406.6,910.5 1406.0,912.0 1405.5,913.5 1405.0,915.0 1404.5,916.6 1403.9,918.1 1403.2,919.6 1402.5,921.1 1401.7,922.5 1401.0,923.9 1400.2,925.3 1399.4,926.6 1398.6,927.8 1397.9,929.0 1397.1,930.1 1396.4,931.1 1395.8,932.1 1395.3,932.9 1394.8,933.7 1394.4,934.3"/>
<path d="M1355.0,598.0C1307.8,617.4 1209.6,660.9 1101.9,721.0 1042.4,785.8 1054.7,844.7 962.7,897.3 948.5,927.8 800.3,945.9 718.1,953.2"/>
<path d="M1303.4,590.2C1146.2,597.6 816.4,616.4 718.7,646.3 659.5,661.7 593.8,694.1 556.6,714.6"/>
<path d="M1461.4,595.5C1581.9,609.1 1811.8,634.9 1936.1,648.8"/>
<path d="M1406.3,598.1C1429.9,609.7 1466.8,628.6 1497.9,646.3 1517.7,657.4 1521.1,663.6 1541.8,672.9 1571.4,696.3 1686.9,733.5 1742.9,747.7 1812.6,765.9 1868.7,782.7 1898.1,793.9"/>
<path d="M1415.7,598.1C1448.0,609.5 1497.1,628.1 1538.2,646.3 1563.2,657.1 1568.0,664.0 1594.4,672.9 1637.2,693.9 1694.5,709.3 1739.1,719.3"/>
<path d="M1383.7,598.5C1388.4,608.7 1398.0,623.7 1407.6,636.0"/>
<path d="M1369.1,598.1C1353.5,609.7 1323.5,628.5 1297.9,646.3 1276.4,667.2 1242.1,692.9 1209.2,710.9"/>
<path d="M1461.4,593.2C1619.7,606.3 1973.5,635.9 2100.6,650.2"/>
<path d="M1431.9,598.0C1485.8,610.5 1572.2,630.4 1630.5,643.8"/>
<path d="M2014.9,672.8C1985.9,691.4 1937.9,727.2 1913.7,747.7 1815.3,810.0 1794.4,802.9 1735.3,822.5 1233.5,897.8 1191.1,847.9 796.8,870.7 750.3,872.6 697.3,874.8 650.0,876.8"/>
<path d="M2065.2,672.3C2081.8,684.8 2112.8,704.8 2146.8,718.4"/>
<path d="M2016.0,672.5L2015.5,673.8 2015.0,675.5 2014.3,677.4 2013.5,679.6 2012.7,681.9 2011.8,684.4 2010.9,687.0 2009.9,689.8 2009.0,692.5 2008.0,695.3 2007.1,698.0 2006.1,700.7 2005.3,703.3 2004.4,705.7 2003.7,708.0 2003.0,710.0 2002.4,711.9 2001.9,713.6 2001.3,715.2 2000.9,716.8 2000.4,718.3 2000.0,719.7 1999.6,721.1 1999.2,722.4 1998.9,723.7 1998.5,725.1 1998.1,726.4 1997.8,727.8 1997.4,729.3 1996.9,730.8 1996.5,732.3 1996.0,734.0 1995.5,735.8 1994.9,737.6 1994.4,739.6 1993.8,741.6 1993.2,743.6 1992.6,745.7 1992.0,747.8 1991.4,749.9 1990.7,752.0 1990.1,754.0 1989.6,756.1 1989.0,758.0 1988.4,759.9 1987.9,761.7 1987.4,763.4 1987.0,765.0 1986.6,766.5 1986.2,768.0 1985.8,769.4 1985.4,770.8 1985.1,772.1 1984.7,773.4 1984.4,774.6 1984.1,775.7 1983.8,776.8 1983.6,777.9 1983.3,778.9 1983.1,779.8 1982.9,780.6 1982.7,781.3 1982.5,782.0 1982.4,782.6"/>
<path d="M1996.9,672.5C1961.2,684.1 1904.8,702.0 1861.3,715.4"/>
<path d="M2279.9,746.0C2394.6,759.4 2565.2,782.8 2653.6,796.6"/>
<path d="M2168.7,747.1C2129.7,759.4 2069.6,778.9 2022.3,792.5"/>
<path d="M1800.5,747.1C1777.7,758.9 1756.4,777.5 1750.1,791.0"/>
<path d="M1857.7,747.1C1883.3,759.2 1906.4,778.2 1929.1,791.7"/>
<path d="M1374.2,672.3C1307.2,683.6 1201.2,701.9 1106.0,721.0 1020.8,743.2 931.5,773.9 877.2,792.2"/>
<path d="M1433.0,672.6L1433.3,674.7 1433.6,677.2 1434.0,680.1 1434.4,683.3 1434.9,686.8 1435.4,690.5 1435.9,694.5 1436.4,698.6 1437.0,702.9 1437.6,707.3 1438.2,711.7 1438.7,716.3 1439.3,720.8 1439.9,725.3 1440.5,729.7 1441.0,734.0 1441.5,738.3 1442.1,742.7 1442.7,747.2 1443.3,751.8 1443.9,756.4 1444.5,761.1 1445.1,765.9 1445.8,770.6 1446.4,775.5 1446.9,780.3 1447.5,785.1 1448.1,789.9 1448.6,794.7 1449.1,799.5 1449.6,804.3 1450.0,809.0 1450.4,813.8 1450.8,818.7 1451.2,823.7 1451.6,828.8 1452.0,833.9 1452.4,839.1 1452.7,844.2 1453.1,849.2 1453.3,854.2 1453.6,859.1 1453.8,863.8 1454.0,868.3 1454.1,872.7 1454.1,876.7 1454.1,880.5 1454.0,884.0 1453.9,887.2 1453.7,890.0 1453.6,892.7 1453.4,895.0 1453.1,897.2 1452.9,899.2 1452.5,901.0 1452.1,902.8 1451.7,904.4 1451.2,905.9 1450.6,907.4 1449.9,908.8 1449.1,910.3 1448.2,911.8 1447.1,913.4 1446.0,915.0 1444.7,916.7 1443.1,918.4 1441.3,920.1 1439.3,921.8 1437.1,923.5 1434.9,925.2 1432.6,926.8 1430.3,928.4 1428.0,929.9 1425.8,931.4 1423.6,932.8 1421.6,934.0 1419.8,935.2 1418.1,936.2 1416.7,937.2 1415.6,938.0"/>
<path d="M1429.8,646.6C1425.2,636.5 1415.6,621.5 1406.0,609.1"/>
<path d="M1439.5,672.4C1435.3,691.7 1440.9,730.4 1480.3,747.7 1588.3,782.5 1800.5,798.1 1878.2,804.3"/>
<path d="M1401.3,672.3C1357.6,684.3 1285.7,703.3 1233.6,716.8"/>
<path d="M1459.0,672.3C1475.6,684.3 1499.0,703.1 1515.2,716.6"/>
<path d="M1261.6,746.4C1369.2,761.5 1572.9,788.5 1667.8,801.0"/>
<path d="M1196.0,747.2L1196.3,749.6 1196.6,752.5 1197.0,755.8 1197.4,759.5 1197.8,763.6 1198.3,767.9 1198.8,772.5 1199.3,777.2 1199.9,782.1 1200.4,787.1 1201.0,792.1 1201.6,797.1 1202.2,802.0 1202.8,806.9 1203.4,811.5 1204.0,816.0 1204.6,820.4 1205.0,824.9 1205.5,829.5 1205.9,834.2 1206.3,838.9 1206.7,843.6 1207.2,848.3 1207.6,852.9 1208.2,857.5 1208.8,862.0 1209.5,866.4 1210.3,870.7 1211.2,874.8 1212.3,878.8 1213.6,882.5 1215.0,886.0 1216.6,889.3 1218.3,892.4 1220.2,895.4 1222.2,898.3 1224.2,901.0 1226.4,903.6 1228.7,906.0 1231.1,908.4 1233.6,910.6 1236.2,912.8 1238.8,914.8 1241.5,916.8 1244.3,918.7 1247.2,920.5 1250.1,922.3 1253.0,924.0 1256.1,925.6 1259.5,927.1 1263.1,928.5 1266.9,929.8 1270.8,931.0 1274.8,932.1 1278.8,933.1 1282.9,934.1 1286.9,935.0 1290.8,935.8 1294.6,936.6 1298.2,937.3 1301.6,938.0 1304.7,938.7 1307.5,939.4 1310.0,940.0 1312.1,940.6 1314.0,941.1 1315.7,941.6 1317.2,942.0 1318.5,942.4 1319.6,942.7 1320.6,943.0 1321.4,943.2 1322.1,943.4 1322.8,943.6 1323.3,943.7 1323.8,943.9 1324.3,944.0 1324.7,944.1 1325.2,944.3 1325.7,944.4"/>
<path d="M1189.8,747.4C1201.5,777.9 1125.4,859.5 1056.4,897.3 1042.8,938.1 820.1,951.5 718.7,955.5"/>
<path d="M1183.4,747.2C1168.9,777.7 1025.1,860.9 945.1,897.3 857.3,962.3 748.7,914.5 602.2,945.1"/>
<path d="M2191.5,672.3C2125.8,708.9 2076.8,820.2 2072.9,822.5 2041.0,837.7 1193.7,869.6 965.7,879.6"/>
<path d="M2227.0,672.5L2229.3,674.0 2232.1,675.6 2235.3,677.4 2238.9,679.4 2242.9,681.5 2247.1,683.8 2251.5,686.3 2256.1,689.0 2260.8,691.8 2265.5,694.9 2270.2,698.1 2274.8,701.5 2279.2,705.1 2283.4,708.9 2287.4,712.8 2291.0,717.0 2294.4,721.5 2297.8,726.3 2301.1,731.6 2304.4,737.1 2307.5,742.8 2310.7,748.8 2313.7,754.9 2316.7,761.1 2319.6,767.4 2322.4,773.7 2325.1,779.9 2327.7,786.1 2330.2,792.1 2332.6,798.0 2334.8,803.6 2337.0,809.0 2339.0,814.2 2340.9,819.4 2342.7,824.5 2344.4,829.6 2345.9,834.6 2347.4,839.5 2348.7,844.4 2350.0,849.2 2351.2,853.9 2352.3,858.5 2353.4,863.1 2354.4,867.5 2355.3,871.8 2356.2,876.0 2357.1,880.1 2358.0,884.0 2358.8,887.9 2359.5,891.7 2360.2,895.5 2360.8,899.2 2361.3,902.8 2361.7,906.4 2362.1,909.8 2362.5,913.1 2362.8,916.2 2363.0,919.2 2363.3,922.0 2363.5,924.6 2363.7,927.0 2363.9,929.2 2364.1,931.1 2364.3,932.8"/>
<path d="M2206.1,672.8C2204.0,683.1 2195.4,698.3 2187.4,710.8"/>
<path d="M2163.0,672.5L2160.8,673.5 2158.0,674.6 2154.8,675.9 2151.2,677.3 2147.3,678.8 2143.1,680.5 2138.7,682.3 2134.2,684.1 2129.6,686.0 2124.9,688.0 2120.3,690.0 2115.8,692.0 2111.5,694.0 2107.3,696.1 2103.5,698.1 2100.0,700.0 2096.8,702.0 2093.6,704.0 2090.6,706.0 2087.7,708.1 2084.9,710.2 2082.1,712.4 2079.5,714.6 2076.9,716.8 2074.3,719.0 2071.8,721.2 2069.3,723.4 2066.9,725.6 2064.4,727.7 2062.0,729.8 2059.5,731.9 2057.0,734.0 2054.5,736.0 2052.0,738.1 2049.4,740.1 2046.9,742.2 2044.4,744.3 2041.9,746.3 2039.4,748.3 2036.9,750.3 2034.6,752.3 2032.2,754.3 2030.0,756.2 2027.8,758.1 2025.7,759.9 2023.7,761.6 2021.8,763.4 2020.0,765.0 2018.3,766.6 2016.7,768.2 2015.2,769.8 2013.7,771.3 2012.3,772.9 2011.0,774.4 2009.8,775.8 2008.6,777.2 2007.5,778.5 2006.5,779.8 2005.5,781.0 2004.7,782.1 2003.8,783.1 2003.1,784.0 2002.4,784.8 2001.8,785.5"/>
<path d="M2641.2,747.6C2633.8,765.6 2618.9,800.0 2604.9,822.5 2539.5,904.1 2488.0,877.8 2384.2,897.3 2160.5,937.2 1586.6,952.5 1423.8,956.2"/>
<path d="M2623.6,747.6C2604.5,758.1 2572.1,773.7 2544.9,786.4"/>
<path d="M2658.0,747.3C2670.8,758.9 2688.1,776.8 2700.3,790.1"/>
<path d="M2556.2,745.0C2415.1,758.3 2190.7,782.4 2068.1,796.6"/>
<path d="M1912.9,262.6C1898.6,274.7 1877.7,295.2 1868.7,318.6 1862.1,335.8 1862.9,342.4 1868.7,359.9 1873.4,373.8 1882.7,387.3 1891.4,397.9"/>
<path d="M1935.0,262.7C1943.1,276.0 1956.6,298.0 1966.8,314.8"/>
<path d="M1971.1,351.9C1960.6,363.9 1943.9,383.2 1931.0,398.1"/>
<path d="M2168.0,262.4C2157.1,284.4 2130.0,333.2 2093.0,359.9 2052.9,389.0 1997.9,404.5 1959.1,412.4"/>
<path d="M2147.8,262.6C2114.9,277.4 2057.3,303.4 2019.2,320.7"/>
<path d="M2184.1,262.7C2196.7,276.4 2217.8,299.4 2233.4,316.3"/>
<path d="M2213.0,262.6C2259.1,276.0 2336.4,298.5 2394.7,315.5"/>
</g>
<g fill="#191970" stroke="#191970" stroke-width="1.33">
<polygon points="2096.3,76.9 2082.6,80.3 2091.1,69.1 2096.3,76.9"/>
<polygon points="2258.8,69.1 2267.5,80.3 2253.7,77.0 2258.8,69.1"/>
<polygon points="1883.7,155.6 1869.6,155.1 1880.9,146.7 1883.7,155.6"/>
<polygon points="2145.2,225.6 2153.7,236.9 2140.1,233.4 2145.2,225.6"/>
<polygon points="2188.5,145.3 2198.7,155.1 2184.7,153.8 2188.5,145.3"/>
<polygon points="1758.3,231.1 1745.5,237.0 1751.8,224.4 1758.3,231.1"/>
<polygon points="1907.0,224.9 1914.3,237.0 1901.0,232.0 1907.0,224.9"/>
<polygon points="2005.8,320.2 1993.2,326.6 1999.1,313.7 2005.8,320.2"/>
<polygon points="1619.1,230.8 1605.0,229.7 1616.7,221.8 1619.1,230.8"/>
<polygon points="1813.1,186.4 1826.0,180.5 1819.6,193.1 1813.1,186.4"/>
<polygon points="1893.7,395.5 1900.0,408.1 1887.2,402.2 1893.7,395.5"/>
<polygon points="1734.0,789.1 1721.8,796.3 1726.8,783.1 1734.0,789.1"/>
<polygon points="311.3,877.0 324.4,882.4 310.8,886.3 311.3,877.0"/>
<polygon points="851.6,635.8 842.4,646.5 842.9,632.4 851.6,635.8"/>
<polygon points="905.0,710.3 897.0,722.0 910.5,717.8 905.0,710.3"/>
<polygon points="799.7,872.1 812.6,877.7 799.0,881.4 799.7,872.1"/>
<polygon points="771.4,792.5 785.0,796.4 776.8,784.9 771.4,792.5"/>
<polygon points="1423.4,950.8 1410.5,956.5 1424.2,960.1 1423.4,950.8"/>
<polygon points="470.7,870.5 483.6,876.3 469.9,879.8 470.7,870.5"/>
<polygon points="630.6,956.3 644.5,954.0 632.2,947.1 630.6,956.3"/>
<polygon points="517.9,951.5 531.1,956.5 517.6,960.8 517.9,951.5"/>
<polygon points="526.1,707.3 524.4,721.3 517.0,709.3 526.1,707.3"/>
<polygon points="469.3,787.0 480.0,796.2 477.4,782.3 469.3,787.0"/>
<polygon points="1410.0,875.4 1397.0,881.0 1410.6,884.8 1410.0,875.4"/>
<polygon points="2452.6,945.0 2441.0,953.0 2455.1,954.0 2452.6,945.0"/>
<polygon points="332.7,783.4 327.1,796.4 323.4,782.8 332.7,783.4"/>
<polygon points="2519.7,782.1 2519.9,796.3 2511.0,785.3 2519.7,782.1"/>
<polygon points="1086.6,492.2 1072.6,490.4 1084.6,483.0 1086.6,492.2"/>
<polygon points="1406.5,560.0 1400.0,572.5 1412.9,566.8 1406.5,560.0"/>
<polygon points="2013.2,632.4 2014.5,646.4 2004.7,636.3 2013.2,632.4"/>
<polygon points="2245.5,710.9 2236.0,721.3 2250.0,719.1 2245.5,710.9"/>
<polygon points="2730.0,781.9 2730.7,796.0 2721.4,785.4 2730.0,781.9"/>
<polygon points="2068.8,796.0 2056.0,802.0 2069.7,805.3 2068.8,796.0"/>
<polygon points="1834.3,708.4 1828.3,721.2 1825.1,707.4 1834.3,708.4"/>
<polygon points="1463.5,644.0 1449.6,646.8 1458.7,636.0 1463.5,644.0"/>
<polygon points="1200.5,707.7 1200.0,721.8 1209.2,711.1 1200.5,707.7"/>
<polygon points="1637.6,726.3 1623.5,724.8 1635.5,717.2 1637.6,726.3"/>
<polygon points="2150.5,640.0 2163.0,646.5 2157.3,633.6 2150.5,640.0"/>
<polygon points="1705.2,635.9 1696.3,646.9 1696.4,632.7 1705.2,635.9"/>
<polygon points="2738.6,483.9 2751.1,490.4 2737.2,493.2 2738.6,483.9"/>
<polygon points="2628.6,708.7 2635.0,721.3 2637.9,707.5 2628.6,708.7"/>
<polygon points="2949.1,478.3 2961.7,484.6 2947.9,487.6 2949.1,478.3"/>
<polygon points="3172.3,477.8 3185.0,484.0 3171.3,487.1 3172.3,477.8"/>
<polygon points="3383.6,477.9 3396.4,484.0 3382.6,487.2 3383.6,477.9"/>
<polygon points="3642.4,483.8 3654.9,490.4 3641.0,493.0 3642.4,483.8"/>
<polygon points="3892.9,483.8 3905.4,490.4 3891.5,493.0 3892.9,483.8"/>
<polygon points="4141.9,483.7 4154.3,490.4 4140.4,492.9 4141.9,483.7"/>
<polygon points="4336.0,477.8 4348.9,483.5 4335.2,487.1 4336.0,477.8"/>
<polygon points="859.0,712.2 869.0,722.2 867.4,708.2 859.0,712.2"/>
<polygon points="820.8,782.4 823.2,796.3 812.7,786.9 820.8,782.4"/>
<polygon points="587.9,723.1 573.9,721.7 585.7,714.0 587.9,723.1"/>
<polygon points="881.4,857.2 880.1,871.2 872.3,859.4 881.4,857.2"/>
<polygon points="849.8,787.9 838.3,796.1 842.2,782.6 849.8,787.9"/>
<polygon points="1339.1,935.7 1349.3,945.6 1335.2,944.2 1339.1,935.7"/>
<polygon points="466.4,873.4 452.5,871.3 464.7,864.3 466.4,873.4"/>
<polygon points="857.6,859.7 866.0,871.1 852.3,867.4 857.6,859.7"/>
<polygon points="1324.8,953.2 1338.2,957.8 1324.9,962.6 1324.8,953.2"/>
<polygon points="600.0,870.3 585.9,871.3 596.2,861.7 600.0,870.3"/>
<polygon points="643.2,942.9 657.0,945.9 648.1,934.9 643.2,942.9"/>
<polygon points="554.8,932.3 559.5,945.6 564.2,932.3 554.8,932.3"/>
<polygon points="473.5,874.3 459.3,873.5 470.9,865.3 473.5,874.3"/>
<polygon points="764.9,789.1 777.0,796.5 762.9,798.2 764.9,789.1"/>
<polygon points="1324.4,952.8 1337.7,957.5 1324.4,962.1 1324.4,952.8"/>
<polygon points="665.1,933.7 672.0,946.0 674.3,932.1 665.1,933.7"/>
<polygon points="508.8,782.1 507.1,796.1 499.7,784.1 508.8,782.1"/>
<polygon points="366.6,795.5 352.5,796.5 362.9,786.9 366.6,795.5"/>
<polygon points="518.4,948.8 531.2,954.7 517.5,958.1 518.4,948.8"/>
<polygon points="1216.4,870.3 1229.4,876.0 1215.7,879.6 1216.4,870.3"/>
<polygon points="1395.3,938.1 1383.2,945.4 1388.2,932.2 1395.3,938.1"/>
<polygon points="603.7,949.8 589.7,947.6 602.0,940.6 603.7,949.8"/>
<polygon points="2281.9,946.5 2294.9,952.1 2281.3,955.8 2281.9,946.5"/>
<polygon points="1424.1,961.3 1410.7,956.7 1424.0,951.9 1424.1,961.3"/>
<polygon points="789.0,794.8 803.0,796.4 793.0,786.4 789.0,794.8"/>
<polygon points="548.9,714.1 536.7,721.4 541.7,708.1 548.9,714.1"/>
<polygon points="1328.8,564.6 1340.5,572.6 1326.4,573.7 1328.8,564.6"/>
<polygon points="1878.4,798.6 1891.5,803.9 1878.0,807.9 1878.4,798.6"/>
<polygon points="938.2,649.8 924.4,646.9 937.0,640.5 938.2,649.8"/>
<polygon points="911.4,719.3 897.5,721.6 907.0,711.1 911.4,719.3"/>
<polygon points="894.6,859.7 886.2,871.0 885.7,856.9 894.6,859.7"/>
<polygon points="1390.3,932.1 1388.0,946.0 1398.5,936.6 1390.3,932.1"/>
<polygon points="718.3,957.9 704.6,954.5 717.4,948.6 718.3,957.9"/>
<polygon points="559.0,718.6 545.2,721.6 554.1,710.7 559.0,718.6"/>
<polygon points="1936.9,644.2 1949.6,650.3 1935.8,653.4 1936.9,644.2"/>
<polygon points="1899.3,789.4 1911.5,796.5 1897.6,798.5 1899.3,789.4"/>
<polygon points="1740.0,714.7 1752.4,721.6 1738.4,723.9 1740.0,714.7"/>
<polygon points="1411.3,633.3 1416.1,646.6 1404.1,639.2 1411.3,633.3"/>
<polygon points="1212.9,713.8 1201.0,721.4 1205.5,708.0 1212.9,713.8"/>
<polygon points="2101.3,645.6 2114.2,651.3 2100.5,654.9 2101.3,645.6"/>
<polygon points="1631.7,639.3 1643.7,646.9 1629.6,648.4 1631.7,639.3"/>
<polygon points="650.0,881.5 636.4,877.7 649.4,872.2 650.0,881.5"/>
<polygon points="2148.2,713.9 2160.0,721.7 2145.9,723.0 2148.2,713.9"/>
<polygon points="1977.9,781.4 1979.0,795.5 1986.9,783.8 1977.9,781.4"/>
<polygon points="1863.3,719.6 1849.3,721.5 1859.1,711.3 1863.3,719.6"/>
<polygon points="2654.7,792.0 2667.3,798.5 2653.4,801.3 2654.7,792.0"/>
<polygon points="2023.6,796.9 2009.5,796.5 2020.8,788.0 2023.6,796.9"/>
<polygon points="1751.9,795.4 1737.8,796.5 1748.1,786.8 1751.9,795.4"/>
<polygon points="1931.1,787.5 1942.0,796.5 1927.9,796.3 1931.1,787.5"/>
<polygon points="878.4,796.7 864.3,796.4 875.5,787.8 878.4,796.7"/>
<polygon points="1412.8,934.2 1405.0,946.0 1418.4,941.7 1412.8,934.2"/>
<polygon points="1402.2,611.8 1397.5,598.5 1409.5,605.9 1402.2,611.8"/>
<polygon points="1878.5,799.6 1891.7,804.9 1878.1,808.9 1878.5,799.6"/>
<polygon points="1235.2,721.2 1221.1,721.7 1231.8,712.5 1235.2,721.2"/>
<polygon points="1517.1,712.4 1527.8,721.7 1513.6,721.0 1517.1,712.4"/>
<polygon points="1668.5,796.4 1681.0,803.1 1667.1,805.7 1668.5,796.4"/>
<polygon points="1324.4,948.9 1338.5,948.0 1326.9,939.9 1324.4,948.9"/>
<polygon points="718.4,960.2 704.9,956.1 718.0,950.9 718.4,960.2"/>
<polygon points="602.8,949.7 588.8,947.9 600.9,940.6 602.8,949.7"/>
<polygon points="965.8,884.2 952.3,880.1 965.5,874.9 965.8,884.2"/>
<polygon points="2359.7,933.4 2366.0,946.0 2368.9,932.2 2359.7,933.4"/>
<polygon points="2191.2,708.1 2196.0,721.4 2184.0,714.0 2191.2,708.1"/>
<polygon points="1998.3,782.4 1993.0,795.5 2005.3,788.6 1998.3,782.4"/>
<polygon points="1423.8,960.8 1410.4,956.4 1423.6,951.5 1423.8,960.8"/>
<polygon points="2548.1,789.8 2535.5,796.1 2541.4,783.3 2548.1,789.8"/>
<polygon points="2702.6,786.1 2712.3,796.3 2698.3,794.4 2702.6,786.1"/>
<polygon points="2068.4,801.3 2054.6,798.2 2067.3,792.0 2068.4,801.3"/>
<polygon points="1895.1,395.1 1900.3,408.2 1888.1,401.2 1895.1,395.1"/>
<polygon points="1970.9,312.6 1973.9,326.4 1963.0,317.5 1970.9,312.6"/>
<polygon points="1934.2,401.5 1921.9,408.5 1927.2,395.4 1934.2,401.5"/>
<polygon points="1959.5,417.1 1945.6,415.0 1957.8,407.9 1959.5,417.1"/>
<polygon points="2020.7,325.1 2006.6,326.3 2016.8,316.6 2020.7,325.1"/>
<polygon points="2237.1,313.4 2242.7,326.4 2230.2,319.8 2237.1,313.4"/>
<polygon points="2396.0,311.0 2407.5,319.2 2393.4,320.0 2396.0,311.0"/>
</g>
<g font-family="Liberation Sans, sans-serif" font-size="14.0" text-anchor="middle" fill="#000">
<rect x="2099.6" y="5.6" width="149.3" height="25.3" fill="#bfbfbf" stroke="#000000" stroke-width="1.33"/>
<text x="2174.2" y="21.9" textLength="125.0" lengthAdjust="spacingAndGlyphs">Proto_MBAMRMap.H</text>
<rect x="1989.1" y="80.5" width="152.0" height="25.3" fill="#ffffff" stroke="#000000" stroke-width="1.33"/>
<text x="2065.1" y="96.8" textLength="127.1" lengthAdjust="spacingAndGlyphs">Proto_MBAMRData.H</text>
<rect x="2165.9" y="80.5" width="238.7" height="25.3" fill="#ffffff" stroke="#bfbfbf" stroke-width="1.33"/>
<text x="2285.2" y="96.8" textLength="213.1" lengthAdjust="spacingAndGlyphs">implem/Proto_MBAMRMapImplem.H</text>
<rect x="1745.0" y="155.1" width="176.0" height="25.3" fill="#ffffff" stroke="#000000" stroke-width="1.33"/>
<text x="1833.0" y="171.4" textLength="151.7" lengthAdjust="spacingAndGlyphs">Proto_MBLevelBoxData.H</text>
<rect x="2092.0" y="237.0" width="162.7" height="25.3" fill="#ffffff" stroke="#000000" stroke-width="1.33"/>
<text x="2173.3" y="253.3" textLength="138.7" lengthAdjust="spacingAndGlyphs">Proto_MBAMRLayout.H</text>
<rect x="2103.1" y="155.1" width="241.3" height="25.3" fill="#ffffff" stroke="#bfbfbf" stroke-width="1.33"/>
<text x="2223.8" y="171.4" textLength="215.3" lengthAdjust="spacingAndGlyphs">implem/Proto_MBAMRDataImplem.H</text>
<rect x="1662.5" y="237.0" width="152.0" height="25.3" fill="#ffffff" stroke="#ff0000" stroke-width="1.33"/>
<text x="1738.5" y="253.3" textLength="127.9" lengthAdjust="spacingAndGlyphs">Proto_MBDataPoint.H</text>
<rect x="1839.1" y="237.0" width="177.3" height="25.3" fill="#ffffff" stroke="#000000" stroke-width="1.33"/>
<text x="1927.8" y="253.3" textLength="153.9" lengthAdjust="spacingAndGlyphs">Proto_MBBoundaryData.H</text>
<rect x="1881.0" y="326.6" width="200.0" height="25.3" fill="#ffffff" stroke="#ff0000" stroke-width="1.33"/>
<text x="1981.0" y="342.9" textLength="174.8" lengthAdjust="spacingAndGlyphs">Proto_MBDisjointBoxLayout.H</text>
<rect x="1430.6" y="229.7" width="208.0" height="40.0" fill="#ffffff" stroke="#bfbfbf" stroke-width="1.33"/>
<text x="1534.6" y="246.0" textLength="184.2" lengthAdjust="spacingAndGlyphs">implem/Proto_MBLevelBoxData</text>
<text x="1534.6" y="260.7" textLength="55.6" lengthAdjust="spacingAndGlyphs">Implem.H</text>
<rect x="1878.7" y="408.5" width="66.7" height="25.3" fill="#ffffff" stroke="#ff0000" stroke-width="1.33"/>
<text x="1912.0" y="424.8" textLength="44.1" lengthAdjust="spacingAndGlyphs">Proto.H</text>
<rect x="1681.3" y="796.5" width="61.3" height="25.3" fill="#ffffff" stroke="#bfbfbf" stroke-width="1.33"/>
<text x="1712.0" y="812.8" textLength="38.3" lengthAdjust="spacingAndGlyphs">cstring</text>
<rect x="324.6" y="871.3" width="134.7" height="25.3" fill="#ffffff" stroke="#000000" stroke-width="1.33"/>
<text x="391.9" y="887.6" textLength="112.0" lengthAdjust="spacingAndGlyphs">base/Proto_Face.H</text>
<rect x="733.2" y="646.9" width="210.7" height="25.3" fill="#ffffff" stroke="#000000" stroke-width="1.33"/>
<text x="838.5" y="663.2" textLength="188.6" lengthAdjust="spacingAndGlyphs">base/Proto_CoordPermutation.H</text>
<rect x="809.2" y="721.7" width="136.0" height="25.3" fill="#ffffff" stroke="#ff0000" stroke-width="1.33"/>
<text x="877.2" y="738.0" textLength="113.2" lengthAdjust="spacingAndGlyphs">base/Proto_Array.H</text>
<rect x="813.3" y="871.3" width="138.7" height="25.3" fill="#ffffff" stroke="#000000" stroke-width="1.33"/>
<text x="882.7" y="887.6" textLength="114.9" lengthAdjust="spacingAndGlyphs">base/Proto_Accel.H</text>
<rect x="762.1" y="796.5" width="136.0" height="25.3" fill="#ffffff" stroke="#ff0000" stroke-width="1.33"/>
<text x="830.1" y="812.8" textLength="112.7" lengthAdjust="spacingAndGlyphs">base/Proto_Point.H</text>
<rect x="1338.3" y="945.7" width="72.0" height="25.3" fill="#ffffff" stroke="#bfbfbf" stroke-width="1.33"/>
<text x="1374.3" y="962.0" textLength="49.8" lengthAdjust="spacingAndGlyphs">iostream</text>
<rect x="483.8" y="871.3" width="152.0" height="25.3" fill="#ffffff" stroke="#ff0000" stroke-width="1.33"/>
<text x="559.8" y="887.6" textLength="127.6" lengthAdjust="spacingAndGlyphs">base/Proto_PAssert.H</text>
<rect x="644.4" y="945.7" width="60.0" height="25.3" fill="#ffffff" stroke="#bfbfbf" stroke-width="1.33"/>
<text x="674.4" y="962.0" textLength="36.8" lengthAdjust="spacingAndGlyphs">cstdlib</text>
<rect x="531.4" y="945.7" width="57.3" height="25.3" fill="#ffffff" stroke="#bfbfbf" stroke-width="1.33"/>
<text x="560.0" y="962.0" textLength="34.0" lengthAdjust="spacingAndGlyphs">cstdio</text>
<rect x="462.7" y="721.7" width="129.3" height="25.3" fill="#ffffff" stroke="#ff0000" stroke-width="1.33"/>
<text x="527.4" y="738.0" textLength="105.5" lengthAdjust="spacingAndGlyphs">base/Proto_Box.H</text>
<rect x="432.2" y="796.5" width="154.7" height="25.3" fill="#ffffff" stroke="#000000" stroke-width="1.33"/>
<text x="509.5" y="812.8" textLength="129.8" lengthAdjust="spacingAndGlyphs">base/Proto_MayDay.H</text>
<rect x="1229.7" y="871.3" width="166.7" height="25.3" fill="#ffffff" stroke="#ff0000" stroke-width="1.33"/>
<text x="1313.0" y="887.6" textLength="143.1" lengthAdjust="spacingAndGlyphs">base/Proto_Parstream.H</text>
<rect x="2295.0" y="945.7" width="145.3" height="25.3" fill="#ffffff" stroke="#ff0000" stroke-width="1.33"/>
<text x="2367.6" y="962.0" textLength="120.7" lengthAdjust="spacingAndGlyphs">base/Proto_SPMD.H</text>
<rect x="244.9" y="796.5" width="162.7" height="25.3" fill="#ffffff" stroke="#000000" stroke-width="1.33"/>
<text x="326.2" y="812.8" textLength="139.5" lengthAdjust="spacingAndGlyphs">base/Proto_Centering.H</text>
<rect x="2456.6" y="796.5" width="134.7" height="25.3" fill="#ffffff" stroke="#ff0000" stroke-width="1.33"/>
<text x="2523.9" y="812.8" textLength="111.3" lengthAdjust="spacingAndGlyphs">base/Proto_GPU.H</text>
<rect x="956.9" y="490.5" width="138.7" height="25.3" fill="#ffffff" stroke="#000000" stroke-width="1.33"/>
<text x="1026.2" y="506.8" textLength="115.6" lengthAdjust="spacingAndGlyphs">base/Proto_Forall.H</text>
<rect x="1304.0" y="572.6" width="157.3" height="25.3" fill="#ffffff" stroke="#ff0000" stroke-width="1.33"/>
<text x="1382.7" y="588.9" textLength="133.0" lengthAdjust="spacingAndGlyphs">base/Proto_BoxData.H</text>
<rect x="1949.9" y="646.9" width="140.0" height="25.3" fill="#ffffff" stroke="#ff0000" stroke-width="1.33"/>
<text x="2019.9" y="663.2" textLength="115.6" lengthAdjust="spacingAndGlyphs">base/Proto_Stack.H</text>
<rect x="2130.5" y="721.7" width="149.3" height="25.3" fill="#ffffff" stroke="#000000" stroke-width="1.33"/>
<text x="2205.2" y="738.0" textLength="125.7" lengthAdjust="spacingAndGlyphs">base/Proto_Macros.H</text>
<rect x="2667.5" y="796.5" width="134.7" height="25.3" fill="#ffffff" stroke="#ff0000" stroke-width="1.33"/>
<text x="2734.8" y="812.8" textLength="110.5" lengthAdjust="spacingAndGlyphs">base/Proto_CPU.H</text>
<rect x="1891.8" y="796.5" width="162.7" height="25.3" fill="#ffffff" stroke="#000000" stroke-width="1.33"/>
<text x="1973.1" y="812.8" textLength="140.2" lengthAdjust="spacingAndGlyphs">base/Proto_MemType.H</text>
<rect x="1750.5" y="721.7" width="152.0" height="25.3" fill="#ffffff" stroke="#ff0000" stroke-width="1.33"/>
<text x="1826.5" y="738.0" textLength="129.1" lengthAdjust="spacingAndGlyphs">base/Proto_Memory.H</text>
<rect x="1373.4" y="646.9" width="114.7" height="25.3" fill="#ffffff" stroke="#ff0000" stroke-width="1.33"/>
<text x="1430.8" y="663.2" textLength="90.3" lengthAdjust="spacingAndGlyphs">Proto_Stencil.H</text>
<rect x="1122.5" y="721.7" width="138.7" height="25.3" fill="#ffffff" stroke="#ff0000" stroke-width="1.33"/>
<text x="1191.8" y="738.0" textLength="115.1" lengthAdjust="spacingAndGlyphs">base/Proto_Timer.H</text>
<rect x="1488.6" y="721.7" width="134.7" height="25.3" fill="#ffffff" stroke="#000000" stroke-width="1.33"/>
<text x="1555.9" y="738.0" textLength="112.0" lengthAdjust="spacingAndGlyphs">base/Proto_Math.H</text>
<rect x="2114.3" y="646.9" width="165.3" height="25.3" fill="#ffffff" stroke="#ff0000" stroke-width="1.33"/>
<text x="2197.0" y="663.2" textLength="141.6" lengthAdjust="spacingAndGlyphs">base/Proto_Reduction.H</text>
<rect x="1613.3" y="646.9" width="158.7" height="25.3" fill="#ffffff" stroke="#000000" stroke-width="1.33"/>
<text x="1692.7" y="663.2" textLength="135.1" lengthAdjust="spacingAndGlyphs">base/Proto_CInterval.H</text>
<rect x="2709.7" y="490.5" width="228.0" height="25.3" fill="#ffffff" stroke="#bfbfbf" stroke-width="1.33"/>
<text x="2823.7" y="506.8" textLength="203.9" lengthAdjust="spacingAndGlyphs">base/implem/Proto_TimerImplem.H</text>
<rect x="2556.8" y="721.7" width="157.3" height="25.3" fill="#ffffff" stroke="#ff0000" stroke-width="1.33"/>
<text x="2635.5" y="738.0" textLength="133.7" lengthAdjust="spacingAndGlyphs">base/Proto_MemInfo.H</text>
<rect x="2961.9" y="483.1" width="198.7" height="40.0" fill="#ffffff" stroke="#bfbfbf" stroke-width="1.33"/>
<text x="3061.2" y="499.4" textLength="175.6" lengthAdjust="spacingAndGlyphs">base/implem/Proto_Parstream</text>
<text x="3061.2" y="514.1" textLength="55.6" lengthAdjust="spacingAndGlyphs">Implem.H</text>
<rect x="3185.2" y="483.1" width="186.7" height="40.0" fill="#ffffff" stroke="#bfbfbf" stroke-width="1.33"/>
<text x="3278.6" y="499.4" textLength="163.3" lengthAdjust="spacingAndGlyphs">base/implem/Proto_MayDay</text>
<text x="3278.6" y="514.1" textLength="55.6" lengthAdjust="spacingAndGlyphs">Implem.H</text>
<rect x="3396.6" y="483.1" width="185.3" height="40.0" fill="#ffffff" stroke="#bfbfbf" stroke-width="1.33"/>
<text x="3489.3" y="499.4" textLength="162.5" lengthAdjust="spacingAndGlyphs">base/implem/Proto_Memory</text>
<text x="3489.3" y="514.1" textLength="55.6" lengthAdjust="spacingAndGlyphs">Implem.H</text>
<rect x="3605.7" y="490.5" width="225.3" height="25.3" fill="#ffffff" stroke="#bfbfbf" stroke-width="1.33"/>
<text x="3718.4" y="506.8" textLength="200.8" lengthAdjust="spacingAndGlyphs">base/implem/Proto_PointImplem.H</text>
<rect x="3855.7" y="490.5" width="226.7" height="25.3" fill="#ffffff" stroke="#bfbfbf" stroke-width="1.33"/>
<text x="3969.0" y="506.8" textLength="202.3" lengthAdjust="spacingAndGlyphs">base/implem/Proto_ArrayImplem.H</text>
<rect x="4106.5" y="490.5" width="218.7" height="25.3" fill="#ffffff" stroke="#bfbfbf" stroke-width="1.33"/>
<text x="4215.9" y="506.8" textLength="193.6" lengthAdjust="spacingAndGlyphs">base/implem/Proto_BoxImplem.H</text>
<rect x="4349.2" y="483.1" width="242.7" height="40.0" fill="#ffffff" stroke="#bfbfbf" stroke-width="1.33"/>
<text x="4470.5" y="499.4" textLength="221.1" lengthAdjust="spacingAndGlyphs">base/implem/Proto_CoordPermutation</text>
<text x="4470.5" y="514.1" textLength="55.6" lengthAdjust="spacingAndGlyphs">Implem.H</text>
<rect x="2156.0" y="326.6" width="194.7" height="25.3" fill="#ffffff" stroke="#ff0000" stroke-width="1.33"/>
<text x="2253.3" y="342.9" textLength="169.8" lengthAdjust="spacingAndGlyphs">Proto_MBAMRBoxPartition.H</text>
<rect x="2374.7" y="319.2" width="194.7" height="40.0" fill="#ffffff" stroke="#bfbfbf" stroke-width="1.33"/>
<text x="2472.0" y="335.5" textLength="171.2" lengthAdjust="spacingAndGlyphs">implem/Proto_MBAMRLayout</text>
<text x="2472.0" y="350.2" textLength="55.6" lengthAdjust="spacingAndGlyphs">Implem.H</text>
</g></svg>
</body></html>
